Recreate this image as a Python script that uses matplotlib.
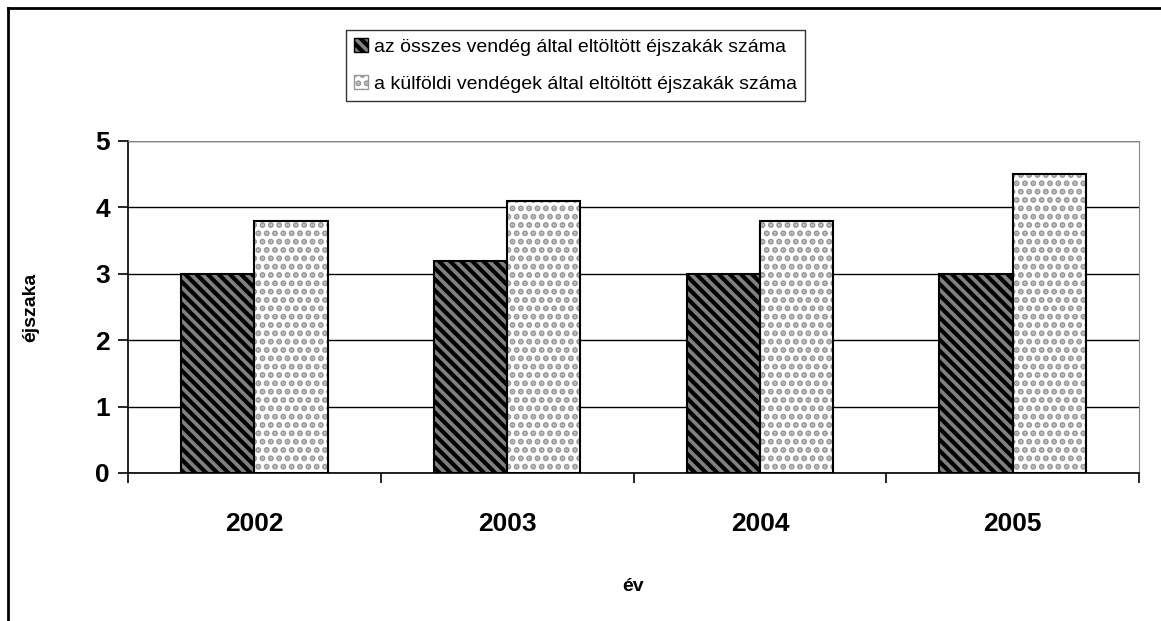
import numpy as np
import matplotlib
matplotlib.use('Agg')
import matplotlib.pyplot as plt
from matplotlib.lines import Line2D
from matplotlib.patches import Patch

# Chart data
years = ['2002', '2003', '2004', '2005']
osszes = [3.0, 3.2, 3.0, 3.0]
kulfoldi = [3.8, 4.1, 3.8, 4.5]
series_labels = ['az összes vendég által eltöltött éjszakák száma',
                 'a külföldi vendégek által eltöltött éjszakák száma']

plt.rcParams['font.family'] = ['Liberation Sans', 'DejaVu Sans']
plt.rcParams['hatch.linewidth'] = 3.0

fig = plt.figure(figsize=(11.61, 6.21), dpi=100)
ax = fig.add_axes([128 / 1161, 1 - 473 / 621, (1139 - 128) / 1161, (473 - 141) / 621])

x = np.arange(len(years))
w = 0.29

# first series: gray with black diagonal stripes
ax.bar(x - w / 2, osszes, w, color='#808080', edgecolor='black', hatch='\\\\\\', linewidth=0, zorder=3)
ax.bar(x - w / 2, osszes, w, fill=False, edgecolor='black', linewidth=1.5, zorder=4)

# second series: white with gray dots
ax.bar(x + w / 2, kulfoldi, w, color='white', edgecolor='#999999', hatch='..', linewidth=0, zorder=3)
ax.bar(x + w / 2, kulfoldi, w, fill=False, edgecolor='black', linewidth=1.5, zorder=4)

ax.set_xlim(-0.5, len(years) - 0.5)
ax.set_ylim(0, 5)
ax.set_yticks(range(0, 6))
ax.set_xticks(x)
ax.set_xticklabels(years, fontsize=19, fontweight='bold')
ax.set_xticks(np.arange(-0.5, len(years)), minor=True)
ax.tick_params(axis='x', which='major', length=0, pad=28)
ax.tick_params(axis='x', which='minor', length=7, width=1.2, direction='out')
ax.tick_params(axis='y', length=7, width=1.2, direction='out', labelsize=19, pad=6)
for lbl in ax.get_yticklabels():
    lbl.set_fontweight('bold')

ax.grid(axis='y', color='black', linewidth=1, zorder=0)
ax.spines['top'].set_color('#888888')
ax.spines['right'].set_color('#888888')
ax.spines['left'].set_linewidth(1.2)
ax.spines['bottom'].set_linewidth(1.2)

ax.set_xlabel('év', fontsize=14, fontweight='bold', labelpad=30)
ax.set_ylabel('éjszaka', fontsize=14, fontweight='bold', labelpad=40)

handles = [Patch(facecolor='#808080', edgecolor='black', hatch='\\\\\\'),
           Patch(facecolor='white', edgecolor='#999999', hatch='..')]
leg = fig.legend(handles, series_labels, loc='upper left',
                 bbox_to_anchor=(346 / 1161, 1 - 30 / 621), fontsize=14,
                 frameon=True, fancybox=False, edgecolor='black',
                 handlelength=0.75, handleheight=0.75, handletextpad=0.3,
                 borderpad=0.4, labelspacing=1.0, borderaxespad=0)
leg.get_frame().set_linewidth(1)

# outer chart border (left and top only visible)
fig.add_artist(Line2D([8 / 1161, 8 / 1161], [0, 1 - 8 / 621], transform=fig.transFigure,
                      color='black', linewidth=2))
fig.add_artist(Line2D([8 / 1161, 1], [1 - 8 / 621, 1 - 8 / 621], transform=fig.transFigure,
                      color='black', linewidth=2))

fig.savefig('out.png', dpi=100)
